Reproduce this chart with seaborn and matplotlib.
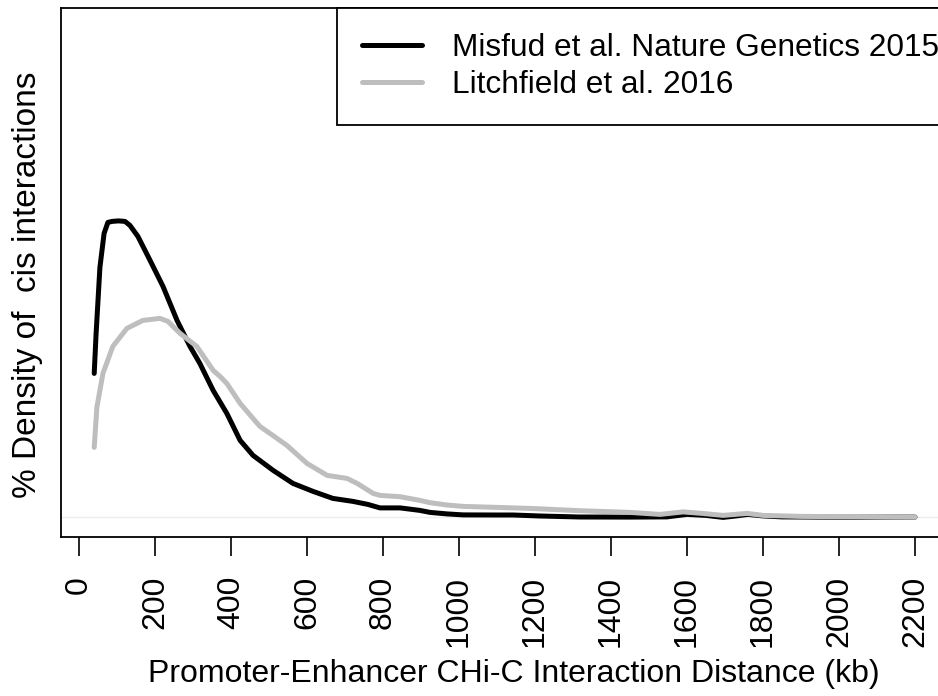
import matplotlib
matplotlib.use("Agg")
import matplotlib.pyplot as plt
from matplotlib.lines import Line2D
import numpy as np
import pandas as pd
import seaborn as sns

# Promoter-enhancer interaction distance (kb) and % density of cis interactions
misfud_kb = [40, 45, 55, 66, 76, 87, 104, 121, 134, 155, 187, 221, 258, 292, 318,
             353, 389, 424, 458, 511, 563, 616, 668, 721, 760, 792, 845, 897, 924,
             968, 1011, 1100, 1142, 1213, 1318, 1450, 1547, 1600, 1650, 1695, 1730,
             1760, 1800, 1850, 1950, 2050, 2150, 2200]
misfud_density = [1.44, 1.84, 2.50, 2.84, 2.95, 2.96, 2.965, 2.96, 2.92, 2.81, 2.57,
                  2.31, 1.97, 1.71, 1.54, 1.27, 1.04, 0.77, 0.62, 0.47, 0.34, 0.26,
                  0.19, 0.16, 0.13, 0.095, 0.095, 0.07, 0.05, 0.035, 0.025, 0.024,
                  0.024, 0.014, 0.004, 0.003, 0.005, 0.03, 0.02, 0.0, 0.015, 0.03,
                  0.015, 0.005, 0.003, 0.002, 0.003, 0.003]

litch_kb = [40, 47, 63, 89, 126, 168, 213, 234, 266, 310, 353, 371, 389, 424, 476,
            510, 547, 600, 653, 705, 732, 774, 792, 845, 897, 924, 968, 1011, 1100,
            1187, 1318, 1450, 1529, 1590, 1640, 1695, 1758, 1800, 1900, 2000, 2100,
            2200]
litch_density = [0.70, 1.10, 1.44, 1.71, 1.89, 1.97, 1.99, 1.96, 1.84, 1.71, 1.47,
                 1.41, 1.34, 1.14, 0.91, 0.82, 0.72, 0.54, 0.42, 0.39, 0.34, 0.24,
                 0.22, 0.207, 0.17, 0.147, 0.124, 0.11, 0.10, 0.09, 0.067, 0.05,
                 0.03, 0.055, 0.04, 0.02, 0.04, 0.02, 0.01, 0.008, 0.005, 0.003]

study_labels = ["Misfud et al. Nature Genetics 2015", "Litchfield et al. 2016"]
study_colors = ["#000000", "#BEBEBE"]
x_ticks = list(range(0, 2201, 200))

df = pd.concat([
    pd.DataFrame({"kb": misfud_kb, "density": misfud_density, "study": study_labels[0]}),
    pd.DataFrame({"kb": litch_kb, "density": litch_density, "study": study_labels[1]}),
], ignore_index=True)

sns.set_style("white")
plt.rcParams["font.family"] = ["Liberation Sans", "DejaVu Sans"]
plt.rcParams["text.color"] = "black"
plt.rcParams["axes.labelcolor"] = "black"
plt.rcParams["xtick.color"] = "black"

W, H = 938, 696
fig = plt.figure(figsize=(W / 100, H / 100), dpi=100)
ax = fig.add_axes([61 / W, 1 - 537 / H, (964 - 61) / W, (537 - 8) / H])

ax.axhline(0, color="#EDEDED", lw=1.0, zorder=0)
sns.lineplot(data=df, x="kb", y="density", hue="study", hue_order=study_labels,
             palette=study_colors, lw=3.6, sort=False, estimator=None,
             legend=False, ax=ax, solid_capstyle="round", solid_joinstyle="round")

ax.set_xlim(-47.4, 2329)
ax.set_ylim(-0.196, 5.094)
ax.set_xticks(x_ticks)
ax.set_xticklabels([str(t) for t in x_ticks], rotation=90, fontsize=23)
ax.set_yticks([])
ax.tick_params(axis="x", direction="out", length=13.7, width=1.2, pad=14.4,
               colors="black", labelcolor="black", bottom=True)
for s in ax.spines.values():
    s.set_color("black")
    s.set_linewidth(1.3)
ax.set_xlabel("")
ax.set_ylabel("")

fig.text(513.5 / W, 1 - 682 / H, "Promoter-Enhancer CHi-C Interaction Distance (kb)",
         ha="center", va="baseline", fontsize=23, color="black")
fig.text(28 / W, 1 - 285 / H, "% Density of  cis interactions", rotation=90,
         ha="center", va="center", fontsize=24, color="black")

handles = [Line2D([0], [0], color=c, lw=3.6, solid_capstyle="round") for c in study_colors]
leg = ax.legend(handles, study_labels, loc="upper right", bbox_to_anchor=(1, 1),
                borderaxespad=0, fancybox=False, framealpha=1, edgecolor="black",
                fontsize=22.8, handlelength=1.92, handletextpad=0.94, borderpad=0.78,
                labelspacing=0.24)
leg.get_frame().set_linewidth(1.3)
for t in leg.get_texts():
    t.set_color("black")

fig.savefig("out.png", dpi=100)
